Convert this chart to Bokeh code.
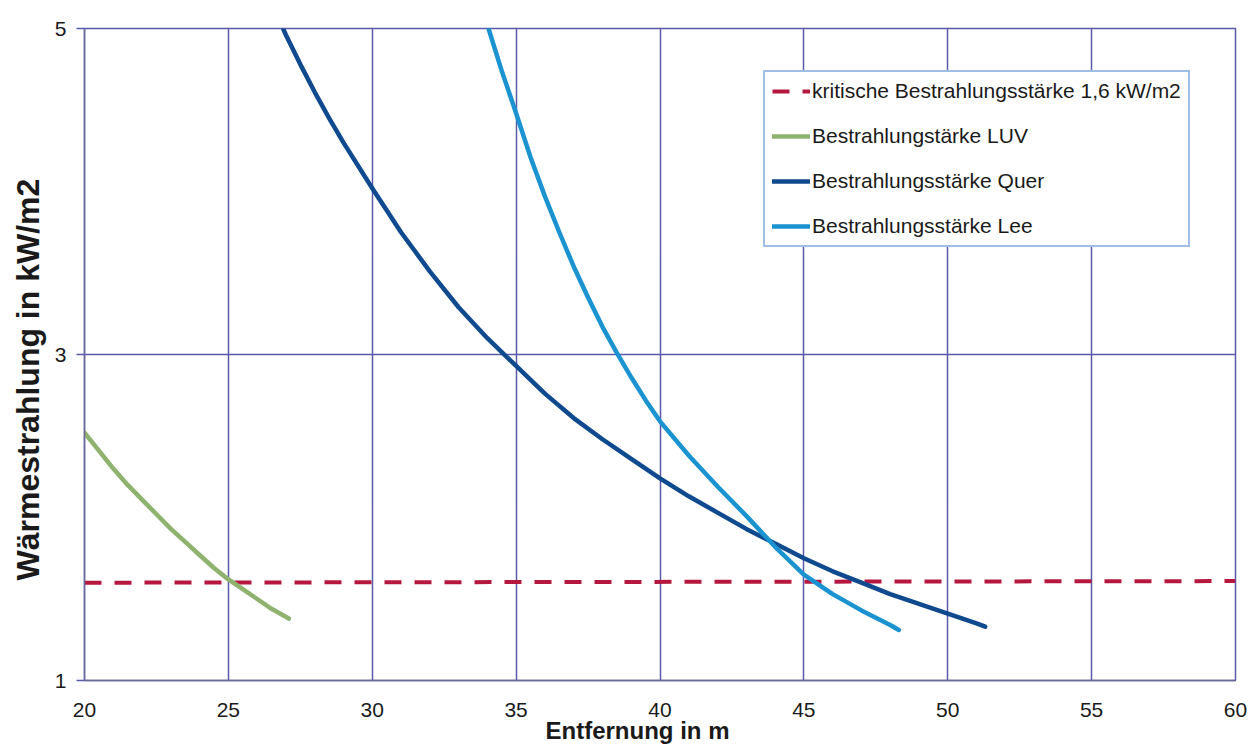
from bokeh.plotting import figure
from bokeh.models import Range1d, FixedTicker, Legend, LegendItem, Title
from bokeh.embed import file_html
from bokeh.resources import INLINE

# ---- data ----
x_ticks = [20, 25, 30, 35, 40, 45, 50, 55, 60]
y_ticks = [1, 3, 5]

krit_x = [20, 60]
krit_y = [1.6, 1.61]

luv_x = [20, 20.5, 21, 21.5, 22, 22.5, 23, 23.5, 24, 24.5, 25, 25.5, 26, 26.5, 27.1]
luv_y = [2.52, 2.41, 2.30, 2.20, 2.11, 2.02, 1.93, 1.85, 1.77, 1.69, 1.62, 1.56, 1.50, 1.44, 1.38]

quer_x = [26.9, 27, 27.5, 28, 28.5, 29, 30, 31, 32, 33, 34, 35, 36, 37, 38, 39, 40, 41, 42, 43,
          44, 45, 46, 47, 48, 49, 50, 51, 51.3]
quer_y = [5.0, 4.96, 4.78, 4.61, 4.45, 4.30, 4.02, 3.75, 3.51, 3.29, 3.10, 2.93, 2.76, 2.61, 2.48, 2.36,
          2.24, 2.13, 2.03, 1.93, 1.84, 1.75, 1.67, 1.60, 1.53, 1.47, 1.41, 1.35, 1.33]

lee_x = [34.04, 34.5, 35, 35.5, 36, 36.5, 37, 37.5, 38, 38.5, 39, 39.5, 40, 41, 42, 43,
         44, 45, 46, 47, 48, 48.3]
lee_y = [5.0, 4.74, 4.48, 4.21, 3.97, 3.75, 3.54, 3.35, 3.17, 3.01, 2.86, 2.72, 2.59, 2.38,
         2.19, 2.01, 1.82, 1.65, 1.53, 1.43, 1.34, 1.31]

labels = [
    "kritische Bestrahlungsstärke 1,6 kW/m2",
    "Bestrahlungstärke LUV",
    "Bestrahlungsstärke Quer",
    "Bestrahlungsstärke Lee",
]
x_label = "Entfernung in m"
y_label = "Wärmestrahlung in kW/m2"

# ---- styles ----
FONT = "Liberation Sans"
GRID = "#5a5aaa"
C_KRIT = "#b5173f"
C_LUV = "#8fb26e"
C_QUER = "#0f4a8e"
C_LEE = "#1a93d0"

p = figure(
    width=1249, height=749,
    x_range=Range1d(20, 60), y_range=Range1d(1, 5),
    output_backend="svg", toolbar_location=None,
    min_border_left=84, min_border_right=14, min_border_top=28, min_border_bottom=69,
)
p.background_fill_color = "white"
p.border_fill_color = "white"
p.outline_line_color = GRID
p.outline_line_width = 1.5

p.xaxis.ticker = FixedTicker(ticks=x_ticks)
p.yaxis.ticker = FixedTicker(ticks=y_ticks)
for g in (p.xgrid, p.ygrid):
    g.grid_line_color = GRID
    g.grid_line_width = 1.5

for ax in (p.xaxis, p.yaxis):
    ax.axis_line_color = "#6b6b9a"
    ax.axis_line_width = 1.5
    ax.minor_tick_line_color = None
    ax.major_tick_in = 0
    ax.major_tick_line_color = GRID
    ax.major_tick_line_width = 1.5
    ax.major_label_text_font = FONT
    ax.major_label_text_font_size = "21px"
    ax.major_label_text_color = "#1a1a1a"

p.xaxis.major_tick_out = 0
p.xaxis.major_label_standoff = 22
p.yaxis.major_tick_out = 8
p.yaxis.major_label_standoff = 10

xt = Title(text=x_label, align="left", vertical_align="top", offset=461, standoff=-6,
           text_font=FONT, text_font_size="24px", text_font_style="bold",
           text_color="#1a1a1a")
p.add_layout(xt, "below")

yt = Title(text=y_label, align="left", offset=100, standoff=11,
           text_font=FONT, text_font_size="32px", text_font_style="bold",
           text_color="#1a1a1a")
p.add_layout(yt, "left")

r_krit = p.line(krit_x, krit_y, line_color=C_KRIT, line_width=4, line_dash="17 13")
r_luv = p.line(luv_x, luv_y, line_color=C_LUV, line_width=4.5, line_cap="round", line_join="round")
r_quer = p.line(quer_x, quer_y, line_color=C_QUER, line_width=4.5, line_cap="round", line_join="round")
r_lee = p.line(lee_x, lee_y, line_color=C_LEE, line_width=4.5, line_cap="round", line_join="round")

legend = Legend(
    items=[
        LegendItem(label=labels[0], renderers=[r_krit]),
        LegendItem(label=labels[1], renderers=[r_luv]),
        LegendItem(label=labels[2], renderers=[r_quer]),
        LegendItem(label=labels[3], renderers=[r_lee]),
    ],
    location=(679, 433),
    border_line_color="#3f7fd4", border_line_width=2,
    background_fill_color="white", background_fill_alpha=1.0,
    label_text_font=FONT, label_text_font_size="21px", label_text_color="#1a1a1a",
    glyph_width=38, glyph_height=24, label_height=24, label_standoff=2,
    spacing=21, padding=7, margin=0,
)
p.add_layout(legend, "center")

open("out.html", "w").write(file_html(p, INLINE))
